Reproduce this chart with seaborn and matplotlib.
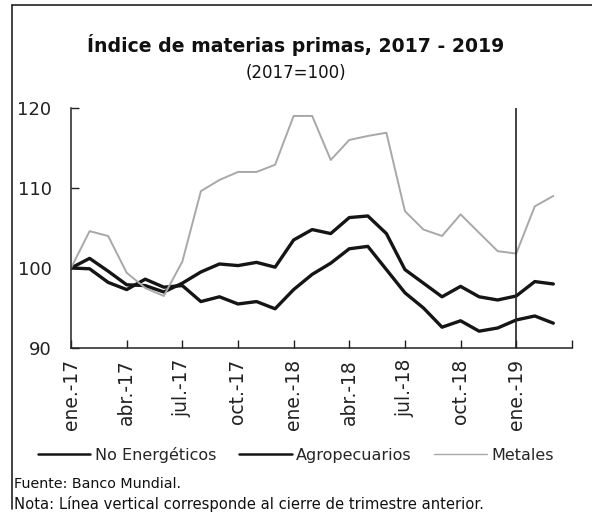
import matplotlib.pyplot as plt
from matplotlib.lines import Line2D
import seaborn as sns
import pandas as pd
import numpy as np

# Monthly data, ene-17 .. mar-19 (2017=100)
months = ["ene.-17", "feb.-17", "mar.-17", "abr.-17", "may.-17", "jun.-17",
          "jul.-17", "ago.-17", "sep.-17", "oct.-17", "nov.-17", "dic.-17",
          "ene.-18", "feb.-18", "mar.-18", "abr.-18", "may.-18", "jun.-18",
          "jul.-18", "ago.-18", "sep.-18", "oct.-18", "nov.-18", "dic.-18",
          "ene.-19", "feb.-19", "mar.-19"]
no_energeticos = [100.0, 101.2, 99.6, 97.9, 97.8, 97.0, 98.1, 99.5, 100.5, 100.3,
                  100.7, 100.1, 103.5, 104.8, 104.3, 106.3, 106.5, 104.3, 99.8, 98.1,
                  96.4, 97.7, 96.4, 96.0, 96.5, 98.3, 98.0]
agropecuarios = [100.0, 99.9, 98.2, 97.3, 98.6, 97.6, 97.8, 95.8, 96.4, 95.5,
                 95.8, 94.9, 97.3, 99.2, 100.6, 102.4, 102.7, 99.8, 96.9, 95.0,
                 92.6, 93.4, 92.1, 92.5, 93.5, 94.0, 93.1]
metales = [100.0, 104.6, 104.0, 99.4, 97.5, 96.5, 100.8, 109.6, 111.0, 112.0,
           112.0, 112.9, 119.0, 119.0, 113.5, 116.0, 116.5, 116.9, 107.1, 104.8,
           104.0, 106.7, 104.4, 102.1, 101.8, 107.7, 109.0]
tick_labels = ["ene.-17", "abr.-17", "jul.-17", "oct.-17", "ene.-18",
               "abr.-18", "jul.-18", "oct.-18", "ene.-19"]

df = pd.DataFrame({"mes": np.arange(len(months)),
                   "No Energéticos": no_energeticos,
                   "Agropecuarios": agropecuarios,
                   "Metales": metales})

sns.set_style("ticks")
plt.rcParams["font.family"] = ["DejaVu Sans"]

fig = plt.figure(figsize=(5.92, 5.19), dpi=100)
ax = fig.add_axes([0.120, 0.3295, 0.846, 0.4625])

styles = {"No Energéticos": ("#151515", 2.4),
          "Agropecuarios": ("#151515", 2.4),
          "Metales": ("#a8a8a8", 1.4)}
for name, (col, lw) in styles.items():
    sns.lineplot(data=df, x="mes", y=name, ax=ax, color=col, linewidth=lw, legend=False)

# Vertical line: cierre de trimestre anterior (ene-19)
ax.axvline(months.index("ene.-19"), color="#222222", linewidth=1.2)

ax.set_xlim(0, len(months))
ax.set_ylim(90, 120)
ax.set_yticks([90, 100, 110, 120])
ax.set_xticks(list(range(0, len(months) + 1, 3)))
ax.set_xticklabels(tick_labels + [""], rotation=90)
ax.tick_params(axis="both", direction="in", length=6, width=1, labelsize=13.5,
               colors="#222222")
ax.tick_params(axis="y", pad=14, labelsize=13)
ax.tick_params(axis="x", pad=8)
ax.set_xlabel("")
ax.set_ylabel("")
for s in ["top", "right"]:
    ax.spines[s].set_visible(False)
for s in ["left", "bottom"]:
    ax.spines[s].set_color("#222222")
    ax.spines[s].set_linewidth(1.1)

handles = [Line2D([], [], color=styles[n][0], linewidth=1.8 if n != "Metales" else 1.0)
           for n in styles]
fig.legend(handles, list(styles), loc="center", bbox_to_anchor=(0.5, 1 - 455 / 519),
           ncol=3, frameon=False, fontsize=11.5, handlelength=3.3,
           columnspacing=1.4, handletextpad=0.3)

fig.text(0.5, 1 - 45 / 519, "Índice de materias primas, 2017 - 2019",
         ha="center", va="center", fontsize=13.6, fontweight="bold", color="#111111")
fig.text(0.5, 1 - 73 / 519, "(2017=100)", ha="center", va="center",
         fontsize=12, color="#111111")
fig.text(14 / 592, 1 - 484 / 519, "Fuente: Banco Mundial.", ha="left", va="center",
         fontsize=10.3, color="#111111")
fig.text(14 / 592, 1 - 504 / 519,
         "Nota: Línea vertical corresponde al cierre de trimestre anterior.",
         ha="left", va="center", fontsize=10.6, color="#111111")

# Frame lines (left and top)
fig.add_artist(plt.Line2D([12 / 592, 12 / 592], [0.02, 1 - 5 / 519],
                          transform=fig.transFigure, color="#222222", linewidth=1.2))
fig.add_artist(plt.Line2D([12 / 592, 1.0], [1 - 5 / 519, 1 - 5 / 519],
                          transform=fig.transFigure, color="#222222", linewidth=1.2))

fig.savefig("out.png", dpi=100, facecolor="white")
